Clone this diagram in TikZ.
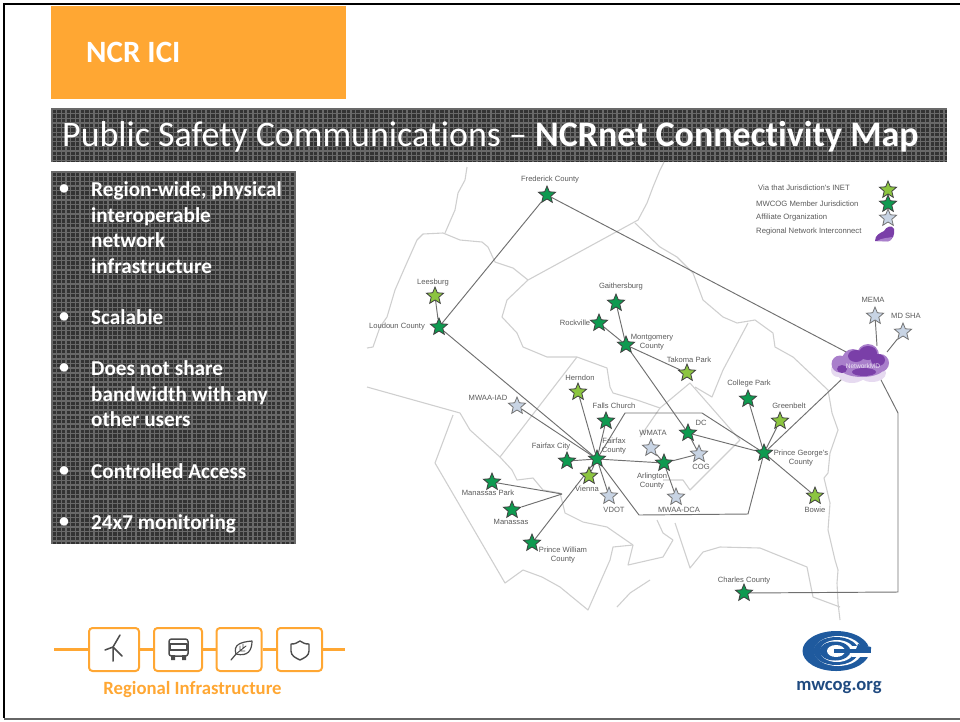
\documentclass[tikz,border=0pt]{standalone}
\usepackage{fontspec}
\setmainfont[RawFeature={-liga,-dlig,-clig}]{Carlito}
\newfontfamily\mapfont{Liberation Sans}
\usetikzlibrary{shapes.geometric}
\definecolor{orangeM}{HTML}{FFA733}
\definecolor{darkP}{HTML}{333333}
\definecolor{gridP}{HTML}{696969}
\definecolor{memberG}{HTML}{0E9A50}
\definecolor{inetG}{HTML}{8CC540}
\definecolor{affB}{HTML}{C8D4E4}
\definecolor{geoC}{HTML}{CFCFCF}
\definecolor{linkC}{HTML}{707070}
\definecolor{mapT}{HTML}{5A5A5A}
\definecolor{cogB}{HTML}{1F5A9E}
\definecolor{webB}{HTML}{1F4A80}
\definecolor{purA}{HTML}{7A3FA8}
\definecolor{purB}{HTML}{A97FCB}
\definecolor{purC}{HTML}{E6DAF0}
\pgfdeclarelayer{geo}\pgfdeclarelayer{links}
\pgfsetlayers{geo,links,main}
\tikzset{
 basestar/.style={star,star points=5,star point ratio=2.25,inner sep=0pt,minimum size=18pt,draw=black!75,line width=.8pt},
 member/.style={basestar,fill=memberG},
 inet/.style={basestar,fill=inetG},
 aff/.style={basestar,fill=affB,draw=black!55},
 lab/.style={font=\mapfont\fontsize{7.6}{8.8}\selectfont,text=mapT,align=center,inner sep=0pt},
 leg/.style={font=\mapfont\fontsize{7.7}{8.8}\selectfont,text=mapT,inner sep=0pt,anchor=west},
 geoL/.style={draw=geoC,line width=1.1pt,line join=round},
 link/.style={draw=linkC,line width=.95pt,line join=miter},
 panel/.style={fill=darkP,inner sep=0pt,anchor=north west},
 bul/.style={font=\fontsize{21.2}{25.6}\selectfont\bfseries,text=white,align=left,anchor=north west,inner sep=0pt},
 icobox/.style={draw=orangeM,line width=2pt,rounded corners=3.5pt,fill=white,inner sep=0pt,minimum height=43pt},
 ico/.style={draw=black!70,line width=1.2pt,line cap=round,line join=round},
 orbar/.style={draw=orangeM,line width=3.6pt}
}
\newcommand{\gridover}[4]{%
 \begin{scope}
 \clip (#1,#2) rectangle (#3,#4);
 \foreach \i in {0,...,195}{\draw[gridP,line width=1.4pt] ({#1+1+\i*4.67},#2) -- ({#1+1+\i*4.67},#4);}
 \foreach \j in {0,...,85}{\draw[gridP,line width=1.4pt] (#1,{#2+1+\j*4.67}) -- (#3,{#2+1+\j*4.67});}
 \end{scope}}
\begin{document}
\begin{tikzpicture}[x=1pt,y=-1pt]
\useasboundingbox (0,0) rectangle (960,721);
% slide frame
\draw[black,line width=2.6pt] (4,718) -- (4,4) -- (960,4);
\draw[black!60,line width=1.2pt] (4,719) -- (960,719);
% header
\node[fill=orangeM,inner sep=0pt,anchor=north west,minimum width=295pt,minimum height=93pt] (head) at (51,6) {};
\node[font=\fontsize{31}{31}\selectfont\bfseries,text=white,anchor=west,inner sep=0pt] (headtxt) at (86,52) {NCR ICI};
% title bar
\node[panel,minimum width=896pt,minimum height=54pt] (tbar) at (51,108) {};
\gridover{51}{108}{947}{162}
\node[font=\fontsize{35.9}{36}\selectfont,text=white,anchor=west,inner sep=0pt] (ttxt) at (62,137) {Public Safety Communications – \textbf{NCRnet Connectivity Map}};
% bullet panel
\node[panel,minimum width=245pt,minimum height=373pt] (bpanel) at (51,171) {};
\gridover{51}{171}{296}{544}
\foreach \n/\y in {a/190,b/318,c/369,d/472,e/523}{\node[font=\fontsize{20}{20}\selectfont\bfseries,text=white,inner sep=0pt] (bu\n) at (64,\y) {•};}
\node[bul] (p1) at (91,181.5) {Region-wide, physical\\interoperable\\network\\infrastructure};
\node[bul] (p2) at (91,309.5) {Scalable};
\node[bul] (p3) at (91,360.5) {Does not share\\bandwidth with any\\other users};
\node[bul] (p4) at (91,463.5) {Controlled Access};
\node[bul] (p5) at (91,514.5) {24x7 monitoring};
% stars
\node[member] (fred) at (547,195) {};
\node[inet] (lees) at (435,296) {};
\node[member] (loud) at (439,327) {};
\node[member] (gait) at (616,303) {};
\node[member] (rock) at (599,323) {};
\node[member] (mont) at (626,345) {};
\node[inet] (tako) at (687,373) {};
\node[inet] (hern) at (578,392) {};
\node[member] (fall) at (606,421) {};
\node[aff] (iad) at (517,406) {};
\node[member] (fcty) at (597,459) {};
\node[member] (fcit) at (567,461) {};
\node[inet] (vien) at (589,476) {};
\node[aff] (vdot) at (609,496) {};
\node[member] (mpar) at (492,482) {};
\node[member] (mana) at (512,510) {};
\node[member] (pwc) at (532,543) {};
\node[aff] (wmat) at (651,448) {};
\node[member] (arli) at (664,463) {};
\node[aff] (cog) at (699,454) {};
\node[member] (dc) at (688,433) {};
\node[aff] (dca) at (676,497) {};
\node[member] (colp) at (748,399) {};
\node[inet] (gree) at (780,421) {};
\node[member] (pg) at (764,453) {};
\node[inet] (bowi) at (815,496) {};
\node[member] (char) at (744,593) {};
\node[aff] (mema) at (875,316) {};
\node[aff] (shaa) at (903,332) {};
\node[inet] (l1) at (888,190) {};
\node[member] (l2) at (888,204) {};
\node[aff] (l3) at (888,218) {};
% cloud
\node[ellipse,minimum width=56pt,minimum height=38pt,inner sep=0pt] (cloud) at (861,364) {};
\fill[purC] (838,370) circle[radius=7pt] (852,374) ellipse[x radius=14pt,y radius=9pt] (872,373) ellipse[x radius=14pt,y radius=9pt];
\fill[purB] (840,364) circle[radius=8.5pt] (853,360) circle[radius=11pt] (868,355) circle[radius=11pt] (880,363) circle[radius=9pt] (862,368) ellipse[x radius=22pt,y radius=9pt];
\fill[purA] (856,356) ellipse[x radius=8pt,y radius=6pt] (868,353) ellipse[x radius=9pt,y radius=7pt] (878,360) ellipse[x radius=7pt,y radius=6pt] (842,369) ellipse[x radius=5pt,y radius=4pt] (864,372) ellipse[x radius=12pt,y radius=4pt];
\node[font=\mapfont\fontsize{6.6}{7}\selectfont,text=white!85!purA,inner sep=0pt] (cloudt) at (863,366) {NetworkMD};
% legend cloud
\node[inner sep=0pt,minimum size=14pt] (l4) at (885,234) {};
\fill[purA] (875,241) .. controls (875,235) and (880,233) .. (884,231) .. controls (886,227) and (892,224) .. (894,229) .. controls (895,234) and (893,240) .. (888,241) -- cycle;
\fill[purB] (877,241) .. controls (881,238) and (888,238) .. (892,237) .. controls (892,240) and (890,241) .. (888,241.5) -- cycle;
% labels
\node[lab] (tfred) at (550,180) {Frederick County};
\node[lab] (tlees) at (433,283) {Leesburg};
\node[lab] (tloud) at (397,327) {Loudoun County};
\node[lab] (tgait) at (621,287) {Gaithersburg};
\node[lab] (trock) at (575,323) {Rockville};
\node[lab] (tmont) at (652,342) {Montgomery\\County};
\node[lab] (ttako) at (689,360) {Takoma Park};
\node[lab] (thern) at (580,378) {Herndon};
\node[lab] (tfall) at (614,406) {Falls Church};
\node[lab] (tiad) at (488,398) {MWAA-IAD};
\node[lab] (tfcty) at (614,446) {Fairfax\\County};
\node[lab] (tfcit) at (551,447) {Fairfax City};
\node[lab] (tvien) at (587,489) {Vienna};
\node[lab] (tvdot) at (614,510) {VDOT};
\node[lab] (tmpar) at (488,493) {Manassas Park};
\node[lab] (tmana) at (511,522) {Manassas};
\node[lab] (tpwc) at (563,555) {Prince William\\County};
\node[lab] (twmat) at (653,433) {WMATA};
\node[lab] (tarli) at (652,481) {Arlington\\County};
\node[lab] (tcog) at (701,467) {COG};
\node[lab] (tdc) at (701,423) {DC};
\node[lab] (tdca) at (679,510) {MWAA-DCA};
\node[lab] (tcolp) at (749,384) {College Park};
\node[lab] (tgree) at (789,406) {Greenbelt};
\node[lab] (tpg) at (801,458) {Prince George's\\County};
\node[lab] (tbowi) at (815,510) {Bowie};
\node[lab] (tchar) at (744,581) {Charles County};
\node[lab] (tmema) at (873,300) {MEMA};
\node[lab] (tshaa) at (906,316) {MD SHA};
\node[leg] (tl1) at (758,188) {Via that Jurisdiction's INET};
\node[leg] (tl2) at (756,204) {MWCOG Member Jurisdiction};
\node[leg] (tl3) at (756,218) {Affiliate Organization};
\node[leg] (tl4) at (756,232) {Regional Network Interconnect};
% junctions
\coordinate (mpj) at (562,494);
\coordinate (h1) at (625,413);
\coordinate (h2) at (702,413);
\coordinate (h3) at (748,514);
\coordinate (h4) at (639,515);
\coordinate (c1) at (898,592);
\coordinate (c2) at (898,413);
\coordinate (cfr) at (850,354);
\coordinate (cme) at (877,346);
\coordinate (csh) at (887,352);
\coordinate (csw) at (843,378);
\coordinate (cse) at (880,378);
\begin{pgfonlayer}{links}
\draw[link] (fred) -- (loud);
\draw[link] (fred) -- (cfr);
\draw[link] (lees) -- (loud);
\draw[link] (loud) -- (fcty);
\draw[link] (gait) -- (mont);
\draw[link] (rock) -- (mont);
\draw[link] (mont) -- (tako);
\draw[link] (mont) -- (dc);
\draw[link] (hern) -- (fcty);
\draw[link] (fall) -- (fcty);
\draw[link] (iad) -- (fcty);
\draw[link] (fcit) -- (fcty);
\draw[link] (vien) -- (fcty);
\draw[link] (vdot) -- (fcty);
\draw[link] (fcty) -- (arli);
\draw[link] (fcty) -- (pwc);
\draw[link] (mpar) -- (mpj);
\draw[link] (mana) -- (mpj);
\draw[link] (wmat) -- (arli);
\draw[link] (arli) -- (cog);
\draw[link] (cog) -- (dc);
\draw[link] (arli) -- (dca);
\draw[link] (dc) -- (pg);
\draw[link] (colp) -- (pg);
\draw[link] (gree) -- (pg);
\draw[link] (csw) -- (pg);
\draw[link] (pg) -- (bowi);
\draw[link] (mema) -- (cme);
\draw[link] (shaa) -- (csh);
\draw[link] (fcty) -- (h1) -- (h2) -- (pg);
\draw[link] (pg) -- (h3) -- (h4) -- (fcty);
\draw[link] (char) -- (c1) -- (c2) -- (cse);
\end{pgfonlayer}
\begin{pgfonlayer}{geo}
\draw[geoL] (467,167)--(465,180)--(458,193)--(455,210)--(445,233);
\draw[geoL] (367,348)--(373,347)--(380,327)--(387,317)--(395,290)--(405,267)--(417,240)--(423,234)--(443,233)--(460,240)--(482,242)--(488,247)--(495,262)--(513,268)--(528,280);
\draw[geoL] (528,280)--(638,220)--(647,203)--(653,187)--(660,170)--(664,162);
\draw[geoL] (635,223)--(660,247)--(677,257)--(693,273)--(703,300)--(723,317)--(737,323)--(755,320)--(773,333)--(775,347)--(793,357)--(810,373)--(828,390)--(832,413)--(838,430)--(830,453)--(828,473)--(824,478)--(830,503)--(828,530)--(835,560)--(838,570)--(837,583)--(838,603)--(840,620);
\draw[geoL] (528,280)--(507,300)--(502,317)--(517,333)--(523,347)--(547,357)--(577,357)--(607,368)--(610,387)--(613,393)--(637,400)--(660,408);
\draw[geoL] (577,357)--(500,457);
\draw[geoL] (660,408)--(690,383)--(740,440)--(690,490)--(683,480)--(663,480);
\draw[geoL] (660,408)--(640,437);
\draw[geoL] (748,323)--(723,370)--(712,397)--(695,387);
\draw[geoL] (675,523)--(690,568)--(703,552)--(720,547)--(760,548)--(807,567)--(813,597)--(840,607);
\draw[geoL] (367,387)--(460,413)--(470,430)--(500,457)--(512,470)--(517,480)--(533,478)--(543,490)--(560,493)--(565,513)--(583,522)--(607,527)--(633,545)--(628,565)--(663,557)--(673,540)--(663,533)--(657,520);
\draw[geoL] (453,415)--(435,463)--(505,583)--(523,570)--(542,577)--(560,587)--(588,610)--(610,560)--(613,547)--(633,545);
\draw[geoL] (650,580)--(630,593)--(617,607);
\end{pgfonlayer}
% infrastructure strip
\node[icobox,minimum width=50pt] (b1) at (114,649.5) {};
\node[icobox,minimum width=48pt] (b2) at (178,649.5) {};
\node[icobox,minimum width=45pt] (b3) at (239,649.5) {};
\node[icobox,minimum width=45pt] (b4) at (299.5,649.5) {};
\coordinate (sl) at (54,649.5);
\coordinate (sr) at (345,649.5);
\draw[orbar] (sl) -- (b1);
\draw[orbar] (b1) -- (b2);
\draw[orbar] (b2) -- (b3);
\draw[orbar] (b3) -- (b4);
\draw[orbar] (b4) -- (sr);
% turbine
\draw[ico,line width=1.5pt] (113,647)--(113,661) (113,647)--(120,635) (113,647)--(105,650) (113,647)--(122,656);
% bus
\draw[ico,rounded corners=2.5pt,line width=1.5pt] (169,639) rectangle (188,656);
\draw[ico] (170,644) rectangle (187,650);
\fill[black!70] (171,655) rectangle (175,660) (182,655) rectangle (186,660);
% leaf
\draw[ico] (231,660)--(236,654) (236,654) .. controls (233,645) and (240,642) .. (252,641) .. controls (252,650) and (248,657) .. (236,654);
\draw[ico,line width=.9pt] (236,654)--(246,646) (240,651)--(240,646) (243,648)--(243,644) (240,651)--(245,651);
% shield
\draw[ico,line width=1.4pt] (291,644) .. controls (295,644) and (297,643) .. (300,641) .. controls (303,643) and (305,644) .. (309,644) -- (309,651) .. controls (309,656) and (304,658) .. (300,660) .. controls (296,658) and (291,656) .. (291,651) -- cycle;
\node[font=\fontsize{18.7}{19}\selectfont\bfseries,text=orangeM,inner sep=0pt] (rinf) at (192.5,690) {Regional Infrastructure};
% logo
\fill[cogB] (836,651) ellipse[x radius=33.5pt,y radius=20pt];
\fill[white] (838,651) ellipse[x radius=24pt,y radius=15pt];
\fill[cogB] (836,651) ellipse[x radius=22.5pt,y radius=14pt];
\fill[white] (837,651) ellipse[x radius=17pt,y radius=11pt];
\fill[cogB] (835,651) ellipse[x radius=15.5pt,y radius=9.5pt];
\fill[white] (836,651) ellipse[x radius=9pt,y radius=6pt];
% C mouth and G bar
\fill[white] (852,645.5) rectangle (871,656.5);
\fill[cogB] (834,649.2) rectangle (871,653.4);
\fill[cogB] (858,644) -- (871,647) -- (871,649.2) -- (856,649.2) -- cycle;
\node[font=\fontsize{18.6}{19}\selectfont\bfseries,text=webB,inner sep=0pt] (web) at (839,687) {mwcog.org};
\end{tikzpicture}
\end{document}
